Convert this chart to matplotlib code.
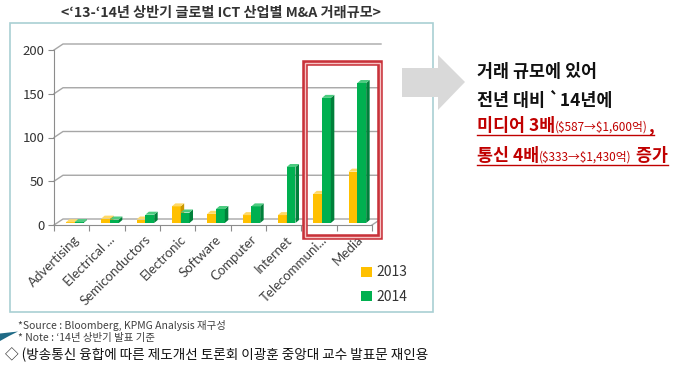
import numpy as np
import matplotlib
matplotlib.use('Agg')
import matplotlib.pyplot as plt
from matplotlib.patches import Polygon, Rectangle
from matplotlib import transforms

plt.rcParams['font.family'] = ['Noto Sans CJK KR', 'DejaVu Sans']

# ---- data (unit: $10억) ----
categories = ['Advertising', 'Electrical ...', 'Semiconductors', 'Electronic', 'Software',
              'Computer', 'Internet', 'Telecommuni...', 'Media']
vals_2013 = [0.8, 5, 4, 19, 10.5, 9, 9, 33.3, 58.7]
vals_2014 = [1, 4, 9.5, 12, 16, 19, 64, 143, 160]
series_labels = ['2013', '2014']
y_ticks = [0, 50, 100, 150, 200]

title = '<‘13-‘14년 상반기 글로벌 ICT 산업별 M&A 거래규모>'
note_lines = ['*Source : Bloomberg, KPMG Analysis 재구성', '* Note : ‘14년 상반기 발표 기준']
bottom_line = '◇ (방송통신 융합에 따른 제도개선 토론회 이광훈 중앙대 교수 발표문 재인용'

W, H = 680, 366
fig = plt.figure(figsize=(6.8, 3.66), dpi=100)


def fx(x):
    return x / W


def fy(y):
    return 1 - y / H


ax = fig.add_axes([fx(54), fy(225), 318 / W, 175 / H])
n = len(categories)
ax.set_xlim(0, n)
ax.set_ylim(0, 200)

# pixel -> data unit helpers
p0 = ax.transData.transform((0, 0))
p1 = ax.transData.transform((1, 1))
ux, uy = p1 - p0


def dx(px):
    return px / ux


def dy(px):
    return px / uy


grid_col = '#A6A6A6'
# back wall gridlines and floor
bx, by = dx(9), dy(6)
for t in y_ticks:
    ax.plot([0, bx, n + bx], [t, t + by, t + by], color=grid_col, lw=1, clip_on=False, zorder=1)
ax.plot([n, n + bx], [0, by], color=grid_col, lw=1, clip_on=False, zorder=1)

# front axes
for s in ['top', 'right']:
    ax.spines[s].set_visible(False)
for s in ['left', 'bottom']:
    ax.spines[s].set_color('#8C8C8C')
ax.set_yticks(y_ticks)
ax.tick_params(axis='y', length=4, color='#8C8C8C', labelsize=9.5, labelcolor='#333333', pad=3)
ax.set_xticks(np.arange(n + 1))
ax.set_xticklabels([])
ax.tick_params(axis='x', which='major', length=4, color='#8C8C8C')
ax.set_xticks(np.arange(n) + 0.5, minor=True)
ax.set_xticklabels(categories, minor=True, rotation=45, ha='right', va='top',
                   rotation_mode='anchor', fontsize=9.5, color='#404040', family=['Lato', 'DejaVu Sans'])
ax.tick_params(axis='x', which='minor', length=0, pad=6)
shift = transforms.ScaledTranslation(2 / 100, 0, fig.dpi_scale_trans)
for lbl in ax.get_xticklabels(minor=True):
    lbl.set_transform(lbl.get_transform() + shift)

# 3D-ish bars
w = 0.25
sx, sy = dx(3), dy(2)
ddx, ddy = dx(3.5), dy(3)
styles = [('#FFC000', '#C99700', '#FFD966'), ('#00B050', '#00803A', '#4CCB80')]
for k, vals in enumerate([vals_2013, vals_2014]):
    front, side, top = styles[k]
    xs = np.arange(n) + 0.5 - w + k * w + sx
    bars = ax.bar(xs, vals, width=w, bottom=sy, align='edge', color=front, lw=0,
                  zorder=3 + k, clip_on=False, label=series_labels[k])
    for b in bars:
        x0, y0 = b.get_x(), b.get_y()
        x1, y1 = x0 + b.get_width(), y0 + b.get_height()
        ax.add_patch(Polygon([(x1, y0), (x1 + ddx, y0 + ddy), (x1 + ddx, y1 + ddy), (x1, y1)],
                             closed=True, color=side, lw=0, zorder=3 + k, clip_on=False))
        ax.add_patch(Polygon([(x0, y1), (x1, y1), (x1 + ddx, y1 + ddy), (x0 + ddx, y1 + ddy)],
                             closed=True, color=top, lw=0, zorder=3 + k, clip_on=False))

leg = ax.legend(loc='upper left', bbox_to_anchor=(fx(349), fy(253)), bbox_transform=fig.transFigure,
                frameon=False, fontsize=10, handlelength=0.75, handleheight=0.75,
                labelspacing=0.75, handletextpad=0.35)
for t in leg.get_texts():
    t.set_color('#333333')

# chart box
fig.add_artist(Rectangle((fx(10), fy(312)), 423 / W, 289 / H, transform=fig.transFigure,
                         fill=False, edgecolor='#A9CFD3', lw=1.2))

# red highlight box (double line)
for lw, col in [(4, '#C8323A'), (1, '#F6C4C4')]:
    fig.add_artist(Rectangle((fx(305), fy(237)), 75 / W, 174 / H, transform=fig.transFigure,
                             fill=False, edgecolor=col, lw=lw, zorder=10))

# grey arrow
arrow_px = [(402, 68), (438, 68), (438, 55), (465, 82), (438, 110), (438, 97), (402, 97)]
fig.add_artist(Polygon([(fx(x), fy(y)) for x, y in arrow_px], closed=True,
                       transform=fig.transFigure, color='#D9D9D9', lw=0))

# small dark swoosh at bottom left
swoosh_px = [(0, 333.5), (9, 332.5), (18, 331.5), (9, 336), (0, 341)]
fig.add_artist(Polygon([(fx(x), fy(y)) for x, y in swoosh_px], closed=True,
                       transform=fig.transFigure, color='#1F6A86', lw=0))

# title and notes
fig.text(fx(221), fy(13), title, ha='center', va='center', fontsize=10.2,
         fontweight='bold', color='#333333')
fig.text(fx(18), fy(325), note_lines[0], ha='left', va='center', fontsize=7.5, color='#404040')
fig.text(fx(18), fy(338), note_lines[1], ha='left', va='center', fontsize=7.5, color='#404040', zorder=5)
fig.text(fx(5), fy(355), bottom_line, ha='left', va='center', fontsize=9.8, color='#111111')

# right-hand commentary
red = '#C00000'
fig.text(fx(477), fy(77), '거래 규모에 있어', ha='left', va='baseline', fontsize=12.5,
         fontweight='bold', color='#111111')
fig.text(fx(477), fy(106), '전년 대비 `14년에', ha='left', va='baseline', fontsize=12.5,
         fontweight='bold', color='#111111')

renderer = fig.canvas.get_renderer()


def red_line(y_base, pieces):
    x = fx(477)
    for txt, size in pieces:
        t = fig.text(x, fy(y_base), txt, ha='left', va='baseline', fontsize=size,
                     fontweight='bold' if size > 9 else 'normal', color=red)
        bb = t.get_window_extent(renderer)
        x = bb.x1 / fig.bbox.width
    fig.add_artist(plt.Line2D([fx(477), x], [fy(y_base + 4), fy(y_base + 4)],
                              transform=fig.transFigure, color=red, lw=1))


red_line(131, [('미디어 3배', 12.5), (r'(\$587→\$1,600억)', 8.5), (',', 12.5)])
red_line(161, [('통신 4배', 12.5), (r'(\$333→\$1,430억)', 8.5), (' 증가', 12.5)])

fig.savefig('out.png', dpi=100)
